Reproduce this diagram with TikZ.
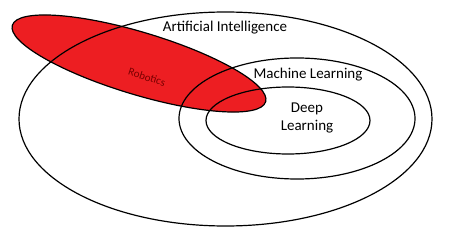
\documentclass[tikz,border=0pt]{standalone}
\usepackage{fontspec}
\setmainfont{Carlito}
\definecolor{robred}{RGB}{237,30,34}
\definecolor{robtext}{RGB}{120,0,0}
\begin{document}
\begin{tikzpicture}[x=1pt,y=1pt,
  ring/.style={draw=black,line width=1.2pt},
  lbl/.style={font=\fontsize{15}{17}\selectfont,align=center,inner sep=0pt}]
\useasboundingbox (0,0) rectangle (450,236);
% Robotics
\filldraw[fill=robred,ring,rotate around={-16.8:(139,172.5)}] (139,172.5) ellipse [x radius=132.3,y radius=31.2];
% AI, ML, DL
\draw[ring] (225.5,117) ellipse [x radius=206.5,y radius=107];
\draw[ring] (297,117.5) ellipse [x radius=118,y radius=60.5];
\draw[ring] (288,115.5) ellipse [x radius=82,y radius=33.5];
\node[lbl] (ai) at (225,208) {Artificial Intelligence};
\node[lbl] (ml) at (308,161) {Machine Learning};
\node[lbl,font=\fontsize{15}{17.5}\selectfont] (dl) at (307,118) {Deep\\Learning};
\node[inner sep=0pt,text=robtext,font=\fontsize{11}{13}\selectfont,rotate=-18] (rob) at (147,159) {Robotics};
\end{tikzpicture}
\end{document}
